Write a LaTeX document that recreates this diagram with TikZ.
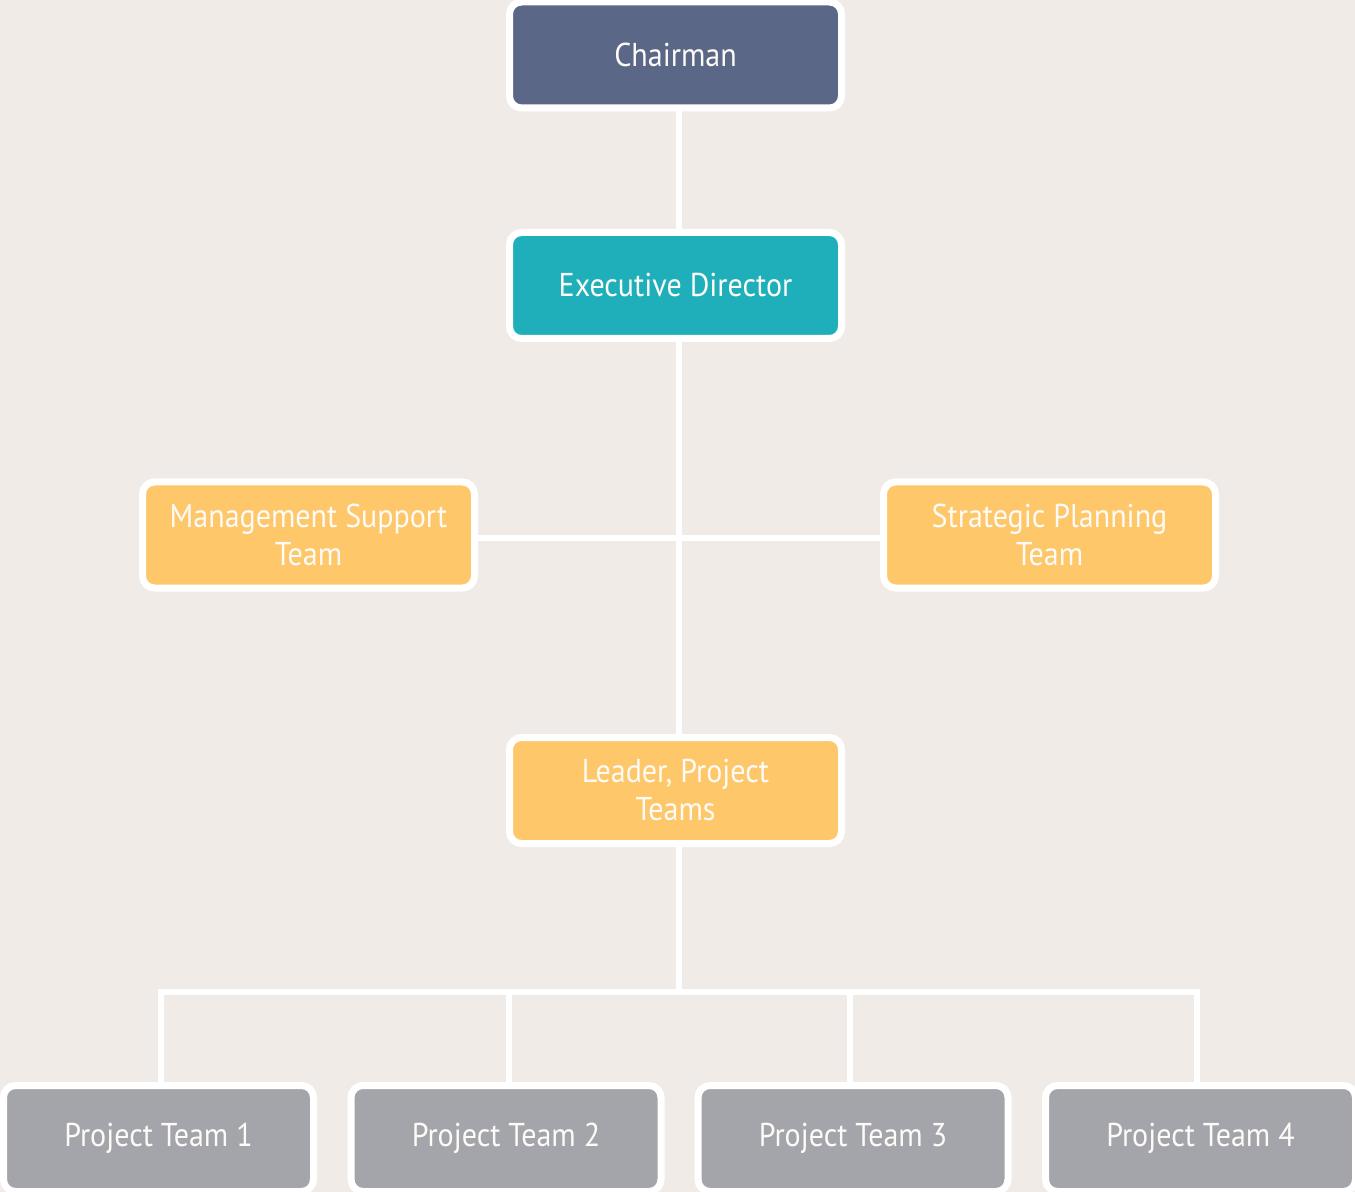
\documentclass[tikz,border=0pt]{standalone}
\usepackage{fontspec}
\setmainfont{PT Sans}[FakeStretch=0.91]
\definecolor{bg}{HTML}{F0EBE7}
\definecolor{chaircol}{HTML}{5A6787}
\definecolor{execcol}{HTML}{1EAFBB}
\definecolor{orangecol}{HTML}{FEC76A}
\definecolor{graycol}{HTML}{A4A5AA}
\definecolor{txt}{HTML}{FDFBF8}
\begin{document}
\begin{tikzpicture}[x=0.5pt,y=-0.5pt,
  box/.style={draw=white, line width=3.5pt, rounded corners=6pt,
    minimum width=166pt, minimum height=53pt, inner sep=0pt,
    text=txt, align=center, font=\fontsize{16.5}{19}\selectfont},
  smallbox/.style={box, minimum width=155pt},
  conn/.style={draw=white, line width=3pt, line join=miter}]
\fill[bg] (0,0) rectangle (1355,1192);
\useasboundingbox (0,0) rectangle (1355,1192);
\coordinate (trunk) at (679,0);
\node[box, fill=chaircol] (chair) at (675.5,55) {Chairman};
\node[box, fill=execcol] (exec) at (675.5,285.5) {Executive Director};
\node[box, fill=orangecol] (mst) at (308.5,535) {Management Support\\Team};
\node[box, fill=orangecol] (spt) at (1049.5,535) {Strategic Planning\\Team};
\node[box, fill=orangecol] (leader) at (675.5,790.5) {Leader, Project\\Teams};
\node[smallbox, fill=graycol] (pt1) at (158.5,1138.5) {Project Team 1};
\node[smallbox, fill=graycol] (pt2) at (506,1138.5) {Project Team 2};
\node[smallbox, fill=graycol] (pt3) at (853,1138.5) {Project Team 3};
\node[smallbox, fill=graycol] (pt4) at (1200.5,1138.5) {Project Team 4};
\coordinate (bus) at (679,992);
\draw[conn] (chair.south -| trunk) -- (exec.north -| trunk);
\draw[conn] (exec.south -| trunk) -- (leader.north -| trunk);
\draw[conn] (mst.east |- 0,538) -- (spt.west |- 0,538);
\draw[conn] (leader.south -| trunk) -- (bus);
\draw[conn] (pt1.north -| 161,0) |- (bus) -| (pt4.north -| 1197,0);
\draw[conn] (pt2.north -| 509,0) -- (509,992);
\draw[conn] (pt3.north -| 850,0) -- (850,992);
\end{tikzpicture}
\end{document}
